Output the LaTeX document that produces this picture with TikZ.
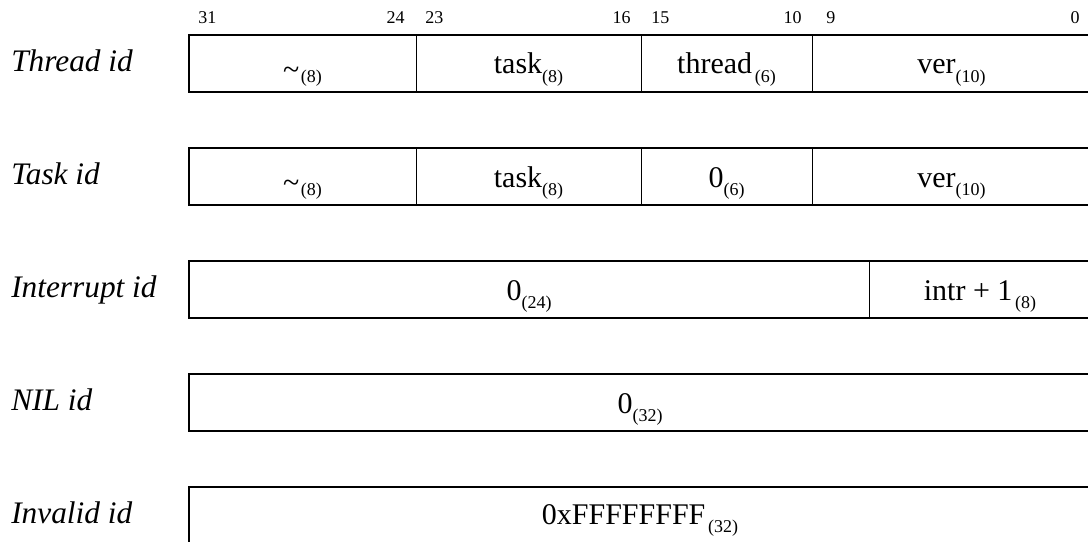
\documentclass[tikz,border=0pt]{standalone}
\usepackage{fontspec}
\setmainfont{Liberation Serif}
% subscript width annotation of a field
\newcommand{\fsub}[1]{\raisebox{-6.4pt}{\fontsize{13.5}{16}\selectfont(#1)}}
% unused bits marker
\newcommand{\unused}{\raisebox{-3.8pt}{\textasciitilde}}
\begin{document}
\begin{tikzpicture}[x=0.75pt,y=-0.75pt,
  frame/.style={line width=1.6pt},
  divider/.style={line width=0.75pt},
  field/.style={anchor=base,inner sep=0pt,font=\fontsize{22.5}{27}\selectfont},
  rowlabel/.style={anchor=base west,inner sep=0pt,font=\fontsize{23.5}{28}\selectfont\itshape},
  bitl/.style={anchor=base west,inner sep=0pt,font=\fontsize{13.5}{16}\selectfont},
  bitr/.style={anchor=base east,inner sep=0pt,font=\fontsize{13.5}{16}\selectfont}]
\useasboundingbox (0,0) rectangle (1088,542);

% bit positions
\node[bitl] (b31) at (198,24) {31};
\node[bitr] (b24) at (405,24) {24};
\node[bitl] (b23) at (425,24) {23};
\node[bitr] (b16) at (631,24) {16};
\node[bitl] (b15) at (651,24) {15};
\node[bitr] (b10) at (802,24) {10};
\node[bitl] (b9)  at (826,24) {9};
\node[bitr] (b0)  at (1080,24) {0};

% Thread id
\node[rowlabel] (lthread) at (11,71) {Thread id};
\draw[frame] (189,35) rectangle (1091,92);
\draw[divider] (416,35) -- (416,92);
\draw[divider] (641,35) -- (641,92);
\draw[divider] (812,35) -- (812,92);
\node[field] (t1) at (302.5,74) {\unused\kern1pt\fsub{8}};
\node[field] (t2) at (528.5,74) {task\fsub{8}};
\node[field] (t3) at (726.5,74) {thread\kern2pt\fsub{6}};
\node[field] (t4) at (951.5,74) {ver\fsub{10}};

% Task id
\node[rowlabel] (ltask) at (11,184) {Task id};
\draw[frame] (189,148) rectangle (1091,205);
\draw[divider] (416,148) -- (416,205);
\draw[divider] (641,148) -- (641,205);
\draw[divider] (812,148) -- (812,205);
\node[field] (k1) at (302.5,187) {\unused\kern1pt\fsub{8}};
\node[field] (k2) at (528.5,187) {task\fsub{8}};
\node[field] (k3) at (726.5,187) {0\fsub{6}};
\node[field] (k4) at (951.5,187) {ver\fsub{10}};

% Interrupt id
\node[rowlabel] (lintr) at (11,297) {Interrupt id};
\draw[frame] (189,261) rectangle (1091,318);
\draw[divider] (869,261) -- (869,318);
\node[field] (i1) at (529,300) {0\fsub{24}};
\node[field] (i2) at (980,300) {intr + 1\kern2pt\fsub{8}};

% NIL id
\node[rowlabel] (lnil) at (11,410) {NIL id};
\draw[frame] (189,374) rectangle (1091,431);
\node[field] (n1) at (640,413) {0\fsub{32}};

% Invalid id
\node[rowlabel] (linv) at (11,523) {Invalid id};
\draw[frame] (189,487) rectangle (1091,544);
\node[field] (v1) at (640,524) {0xFFFFFFFF\kern2pt\fsub{32}};
\end{tikzpicture}
\end{document}
